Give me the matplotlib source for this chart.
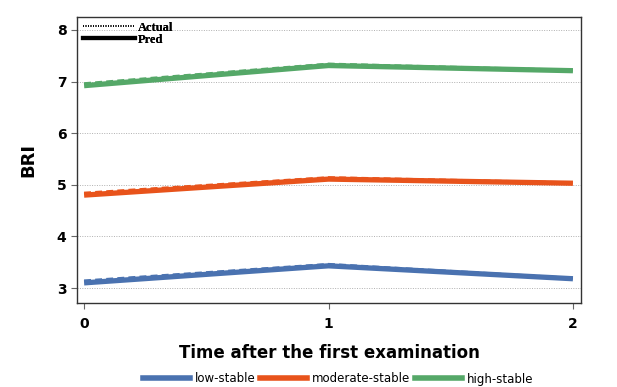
import matplotlib
matplotlib.use("Agg")
from matplotlib import pyplot as plt
from matplotlib.lines import Line2D

time = [0, 1, 2]
groups = ["low-stable", "moderate-stable", "high-stable"]
colors = ["#4a72b0", "#e8531b", "#55a868"]
pred = [
    [3.10, 3.43, 3.18],
    [4.80, 5.11, 5.03],
    [6.92, 7.31, 7.21],
]
actual = [
    [3.14, 3.46, 3.19],
    [4.84, 5.14, 5.04],
    [6.96, 7.34, 7.22],
]

fig = plt.figure(figsize=(6.17, 3.87), dpi=100)
ax = fig.add_axes([77 / 617, 1 - 303 / 387, 504 / 617, 286 / 387])

for i, g in enumerate(groups):
    ax.plot(time, pred[i], color=colors[i], lw=3.8, solid_capstyle="butt", zorder=3)
    ax.plot(time, actual[i], color=colors[i], lw=2.0, ls=(0, (2.5, 1.5)), zorder=4)

ax.set_xlim(-0.029, 2.033)
ax.set_ylim(2.71, 8.25)
ax.set_xticks([0, 1, 2])
ax.set_yticks([3, 4, 5, 6, 7, 8])
ax.yaxis.grid(True, ls=(0, (1, 1.5)), color="#b0b0b0", lw=0.7)
ax.set_axisbelow(True)
for s in ax.spines.values():
    s.set_color("#333333")
    s.set_linewidth(1.0)
ax.tick_params(axis="both", colors="#666666", labelcolor="black", labelsize=10, length=4)
ax.tick_params(axis="x", pad=6)
for lab in ax.get_xticklabels() + ax.get_yticklabels():
    lab.set_fontweight("bold")

ax.set_ylabel("BRI", fontsize=13, fontweight="bold", labelpad=14)
fig.text(329 / 617, 1 - 353 / 387, "Time after the first examination",
         ha="center", va="center", fontsize=12, fontweight="bold")

# style legend (Actual / Pred)
style_handles = [
    Line2D([], [], color="black", lw=1.2, ls=(0, (0.6, 0.9))),
    Line2D([], [], color="black", lw=3),
]
leg1 = ax.legend(style_handles, ["Actual", "Pred"], loc="upper left",
                 bbox_to_anchor=(-0.003, 1.01), frameon=False, handlelength=4.2,
                 handletextpad=0.2, labelspacing=0.0, borderaxespad=0.2,
                 prop={"family": "Liberation Serif", "weight": "bold", "size": 9})
ax.add_artist(leg1)

group_handles = [Line2D([], [], color=c, lw=4) for c in colors]
fig.legend(group_handles, groups, loc="center", bbox_to_anchor=(338 / 617, 1 - 379 / 387),
           ncol=3, frameon=False, handlelength=4.0, handletextpad=0.4,
           columnspacing=0.4, borderpad=0.0, prop={"size": 8.5})

fig.savefig("out.png", dpi=100)
